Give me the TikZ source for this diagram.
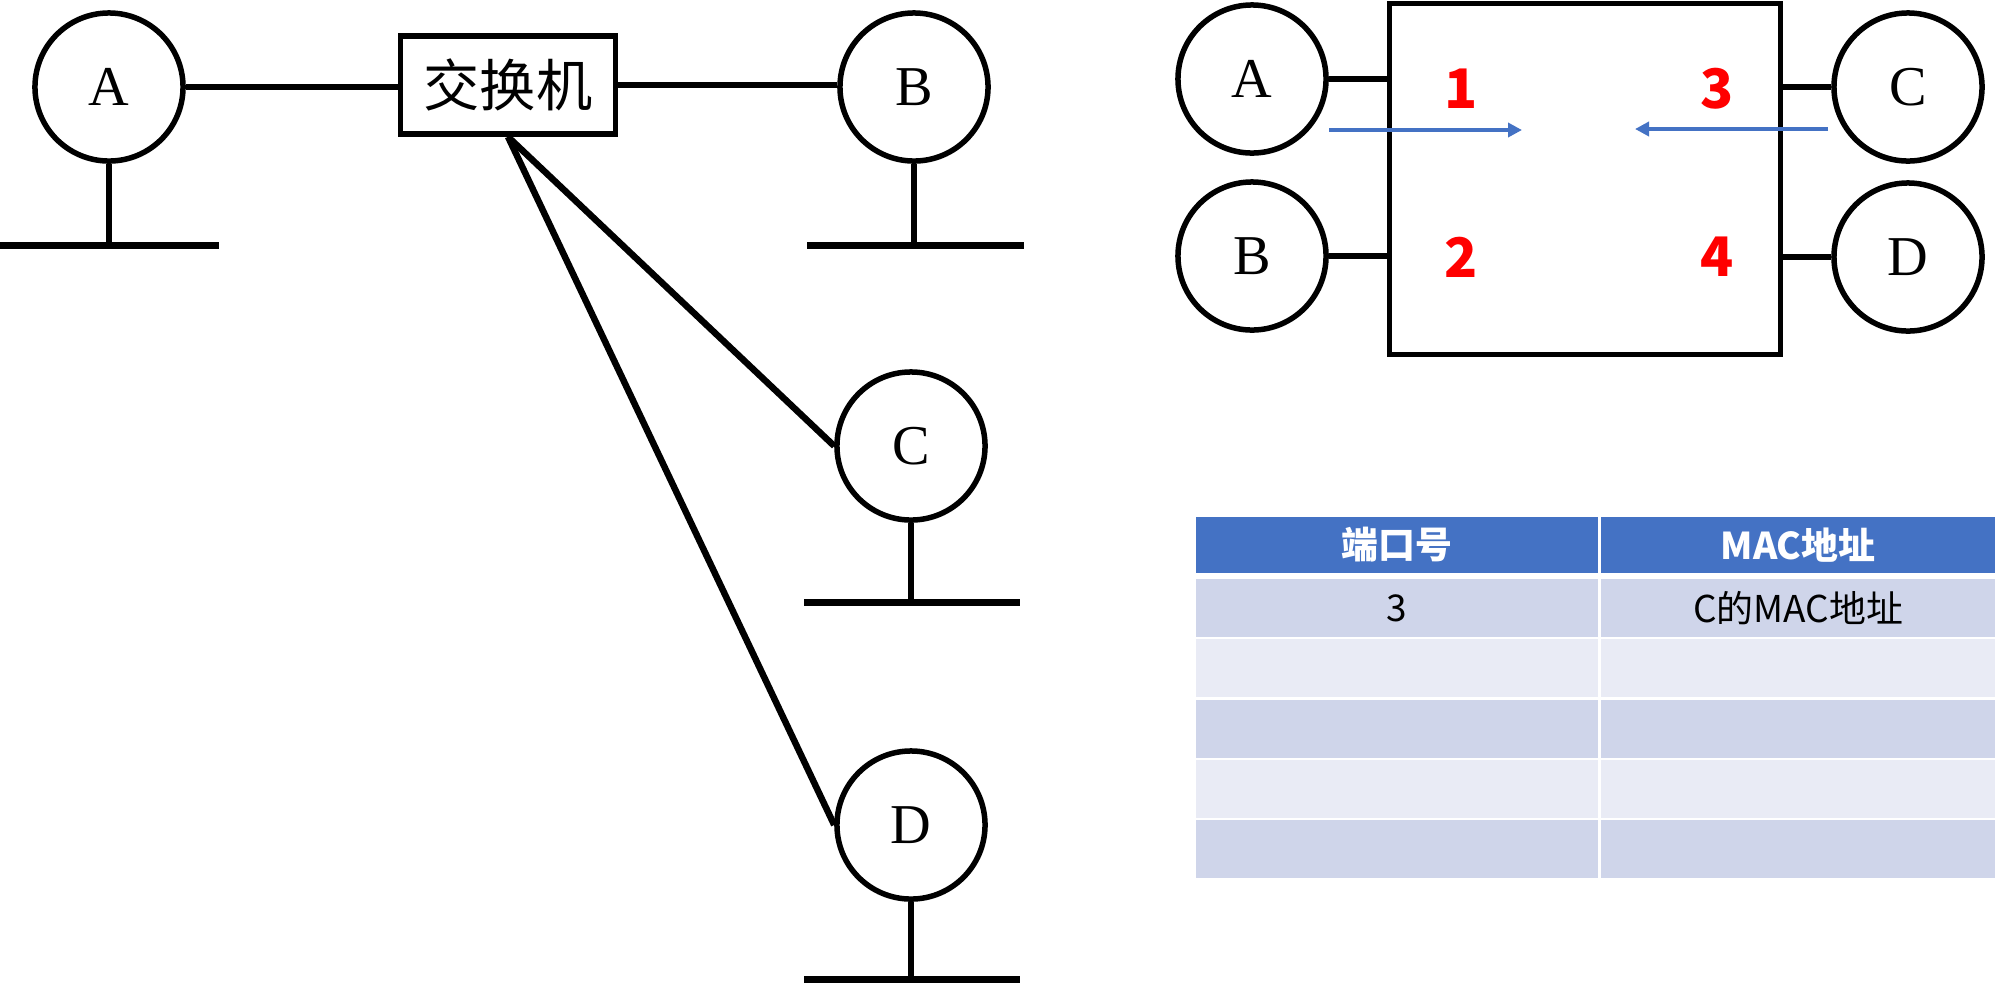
\documentclass[tikz,border=0pt]{standalone}
\usepackage{fontspec}
\setmainfont{Liberation Serif}
\newfontfamily\cjk{Noto Sans CJK SC}
\usepackage{tikz}
\usetikzlibrary{arrows.meta,positioning,calc}
\definecolor{hdrblue}{HTML}{4472C4}
\definecolor{rowdark}{HTML}{CFD5EA}
\definecolor{rowlight}{HTML}{E9EBF5}

\begin{document}
\begin{tikzpicture}[
    x=0.01cm, y=-0.01cm,
    host/.style={circle, draw, line width=0.055cm, minimum size=1.48cm, inner sep=0pt, font=\fontsize{16pt}{16pt}\selectfont},
    wire/.style={line width=0.065cm},
    ground/.style={line width=0.07cm},
    swbox/.style={rectangle, draw, line width=0.055cm, minimum width=2.15cm, minimum height=0.98cm, inner sep=0pt, font=\cjk\fontsize{16pt}{16pt}\selectfont},
    port/.style={text=red, inner sep=0pt, font=\cjk\bfseries\fontsize{15.5pt}{15.5pt}\selectfont},
    flow/.style={-{Triangle[length=0.14cm, width=0.14cm]}, line width=0.04cm, draw=hdrblue},
    hdr/.style={rectangle, fill=hdrblue, text=white, inner sep=0pt, minimum height=0.56cm, font=\cjk\bfseries\fontsize{10.5pt}{10.5pt}\selectfont},
    cell/.style={rectangle, inner sep=0pt, minimum height=0.58cm, font=\cjk\fontsize{10.5pt}{10.5pt}\selectfont}
]
\useasboundingbox (0,0) rectangle (2000,984);

\node (A) [host] at (109,87) {A};
\node (sw) [swbox] at (508,85) {交换机};
\node (B) [host] at (914,87) {B};
\node (C) [host] at (911,446) {C};
\node (D) [host] at (911,825) {D};
\draw[wire] (A.east) -- (A.east -| sw.west);
\draw[wire] (sw.east) -- (sw.east -| B.west);
\draw[wire] (sw.south) -- (C.west);
\draw[wire] (sw.south) -- (D.west);
\coordinate (Agl) at (0,245);
\coordinate (Agr) at (219,245);
\coordinate (Bgl) at (807,245);
\coordinate (Bgr) at (1024,245);
\coordinate (Cgl) at (804,602);
\coordinate (Cgr) at (1020,602);
\coordinate (Dgl) at (804,979);
\coordinate (Dgr) at (1020,979);
\draw[ground] (Agl) -- (Agr);
\draw[ground] (Bgl) -- (Bgr);
\draw[ground] (Cgl) -- (Cgr);
\draw[ground] (Dgl) -- (Dgr);
\draw[wire] (A.south) -- (A.south |- Agl);
\draw[wire] (B.south) -- (B.south |- Bgl);
\draw[wire] (C.south) -- (C.south |- Cgl);
\draw[wire] (D.south) -- (D.south |- Dgl);

\node (sw2) [rectangle, draw, line width=0.05cm, minimum width=3.90cm, minimum height=3.50cm] at (1585,179) {};
\node (A2) [host] at (1252,79) {A};
\node (B2) [host] at (1252,256) {B};
\node (C2) [host] at (1908,87) {C};
\node (D2) [host] at (1908,257) {D};
\draw[wire] (A2.east) -- (A2.east -| sw2.west);
\draw[wire] (B2.east) -- (B2.east -| sw2.west);
\draw[wire] (C2.west) -- (C2.west -| sw2.east);
\draw[wire] (D2.west) -- (D2.west -| sw2.east);
\node (p1) [port] at (1461,89) {1};
\node (p2) [port] at (1461,257) {2};
\node (p3) [port] at (1717,89) {3};
\node (p4) [port] at (1717,257) {4};
\coordinate (f1s) at (1329,130);
\coordinate (f1e) at (1522,130);
\coordinate (f3s) at (1828,129);
\coordinate (f3e) at (1635,129);
\draw[flow] (f1s) -- (f1e);
\draw[flow] (f3s) -- (f3e);

\node (h1) [hdr, minimum width=4.02cm] at (1397,545) {端口号};
\node (h2) [hdr, minimum width=3.94cm] at (1798,545) {MAC地址};
\foreach \r/\shade/\ta/\tb in {1/rowdark/3/C的MAC地址, 2/rowlight//, 3/rowdark//, 4/rowlight//, 5/rowdark//}{
    \node (r\r a) [cell, fill=\shade, minimum width=4.02cm] at (1397,{608+60.3*(\r-1)}) {\ta};
    \node (r\r b) [cell, fill=\shade, minimum width=3.94cm] at (1798,{608+60.3*(\r-1)}) {\tb};
}
\end{tikzpicture}
\end{document}
